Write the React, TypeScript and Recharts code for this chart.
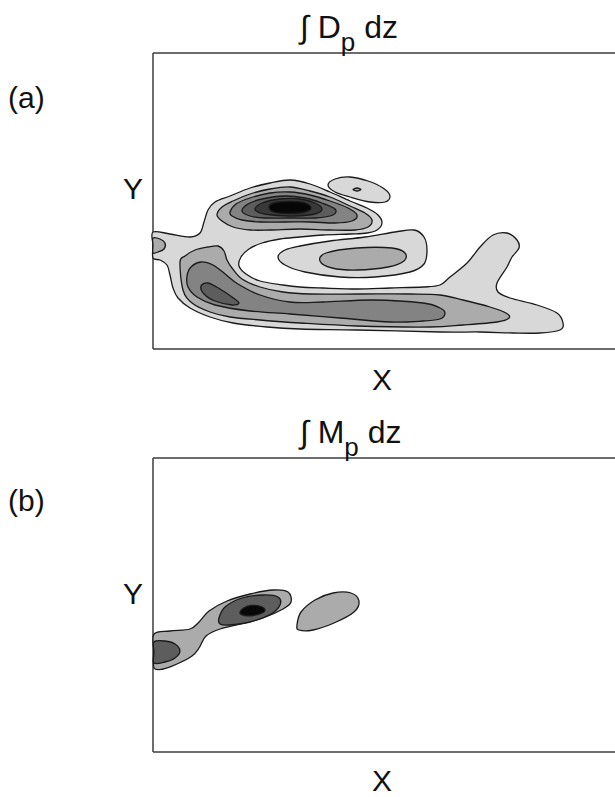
import { ScatterChart, Scatter, XAxis, YAxis, ReferenceLine } from "recharts";

type Pt = [number, number];

// panel (a) — ∫ Dp dz, box units: x 0..462, y 0..296
const dOuter: Pt[] = [
  [0, 117], [17, 115], [37, 112], [47, 116], [51, 127], [55, 139],
  [62, 147], [77, 153], [97, 161], [117, 166], [137, 169], [157, 165], [177, 157],
  [197, 148], [214, 141], [225, 134], [229, 126], [224, 119], [214, 116], [197, 115],
  [170, 114], [147, 112], [127, 110], [109, 106], [96, 100], [88, 92], [86, 83],
  [93, 75], [107, 68], [130, 64], [147, 62], [170, 61], [204, 60], [237, 61], [270, 62],
  [287, 64], [297, 72], [314, 86], [327, 102], [340, 114], [354, 116], [364, 109],
  [366, 101], [359, 92], [354, 82], [344, 66], [345, 57], [357, 51], [384, 44],
  [404, 36], [410, 26], [407, 19], [387, 16], [360, 16], [327, 17], [287, 17],
  [204, 19], [147, 20], [114, 22], [80, 26], [57, 32], [37, 41], [25, 51], [20, 61],
  [17, 74], [14, 84], [7, 89], [0, 91], [0, 104],
];
const dTop2: Pt[] = [
  [64, 134], [69, 142], [80, 148], [97, 155], [117, 160], [137, 162], [157, 158],
  [177, 152], [197, 143], [212, 136], [219, 129], [215, 122], [202, 119], [177, 119],
  [147, 120], [117, 119], [97, 119], [80, 122], [69, 128],
];
const dTop3: Pt[] = [
  [77, 137], [83, 145], [97, 151], [117, 156], [137, 157], [157, 154], [177, 148],
  [195, 141], [204, 134], [199, 128], [182, 126], [157, 127], [132, 127], [107, 127],
  [89, 129], [79, 133],
];
const dTop4: Pt[] = [
  [89, 138], [95, 145], [109, 150], [132, 153], [152, 151], [169, 146], [182, 140],
  [180, 134], [162, 131], [137, 131], [112, 131], [97, 133],
];
const dTop5: Pt[] = [
  [102, 140], [109, 146], [127, 150], [147, 150], [162, 146], [169, 140], [162, 135],
  [142, 133], [119, 134], [107, 136],
];
const dTop6: Pt[] = [
  [116, 142], [121, 146], [137, 147.5], [152, 146], [158, 141], [152, 137], [137, 135.5], [121, 137],
];
const dSmall: Pt[] = [
  [175, 164], [182, 170], [197, 172], [215, 168], [230, 161], [237, 153], [232, 147],
  [217, 147], [197, 152], [182, 157],
];
const dDot: Pt[] = [[200, 159.5], [204, 161], [208, 159.5], [204, 158]];
const dBlob1: Pt[] = [
  [125, 92], [132, 99], [147, 103], [177, 108], [212, 112], [242, 117], [261, 119],
  [271, 112], [274, 99], [271, 85], [257, 77], [222, 72], [187, 72], [152, 77], [132, 84],
];
const dBlob2: Pt[] = [
  [167, 88], [173, 96], [204, 101], [239, 101], [252, 96], [251, 88], [235, 82], [204, 79], [179, 81],
];
const dEdge: Pt[] = [
  [0, 111], [7, 110], [12, 106], [11, 100], [5, 97], [0, 96], [0, 103.5],
];
const dLow2: Pt[] = [
  [27, 87], [32, 93], [42, 99], [55, 102], [65, 103], [71, 98], [74, 89], [79, 81],
  [89, 70], [107, 62], [130, 57], [157, 55], [207, 55], [257, 55], [287, 54], [310, 49],
  [337, 42], [353, 36], [356, 31], [344, 27], [310, 24], [277, 22], [204, 23], [147, 26],
  [107, 29], [77, 32], [57, 37], [39, 46], [30, 59],
];
const dLow3: Pt[] = [
  [34, 73], [38, 82], [48, 87], [60, 84], [71, 76], [85, 65], [107, 54], [137, 47],
  [170, 47], [220, 49], [270, 46], [287, 41], [292, 36], [287, 30], [270, 28], [237, 27],
  [187, 31], [137, 35], [97, 38], [62, 44], [44, 52], [35, 62],
];
const dLow4: Pt[] = [
  [48, 63], [55, 66], [67, 60], [79, 52], [86, 46], [79, 44], [62, 48], [51, 55],
];

// panel (b) — ∫ Mp dz, box units: x 0..462, y 0..294
const mOuter: Pt[] = [
  [1, 118], [17, 121], [37, 123], [46, 130], [56, 141], [74, 151], [97, 158],
  [120, 162], [135, 160], [138, 150], [130, 143], [110, 134], [87, 128], [67, 123],
  [53, 116], [46, 104], [39, 96], [24, 88], [10, 83], [1, 84], [1, 101],
];
const mInner: Pt[] = [
  [66, 134], [72, 145], [89, 154], [110, 157], [125, 155], [127, 147], [118, 138],
  [97, 130], [76, 127], [67, 128],
];
const mCore: Pt[] = [
  [87, 139], [92, 136.5], [100, 136.5], [109, 139], [112, 142], [108, 145.5], [98, 146.5], [90, 143.5],
];
const mEdge: Pt[] = [
  [1, 110], [12, 111], [22, 108], [27, 101], [22, 94], [12, 90], [1, 89], [1, 99.5],
];
const mBlob: Pt[] = [
  [144, 127], [148, 140], [162, 152], [180, 159], [198, 159], [206, 151], [201, 140],
  [181, 129], [160, 122], [146, 122],
];

const shades = ["#d8d8d8", "#ababab", "#838383", "#5d5d5d", "#393939", "#070707"];

const layersA = [
  { pts: dOuter, fill: shades[0] },
  { pts: dEdge, fill: shades[1] },
  { pts: dSmall, fill: shades[0] },
  { pts: dDot, fill: shades[1] },
  { pts: dBlob1, fill: shades[0] },
  { pts: dBlob2, fill: shades[1] },
  { pts: dTop2, fill: shades[1] },
  { pts: dTop3, fill: shades[2] },
  { pts: dTop4, fill: shades[3] },
  { pts: dTop5, fill: shades[4] },
  { pts: dTop6, fill: shades[5] },
  { pts: dLow2, fill: shades[1] },
  { pts: dLow3, fill: shades[2] },
  { pts: dLow4, fill: shades[3] },
];

const layersB = [
  { pts: mOuter, fill: shades[1] },
  { pts: mEdge, fill: shades[3] },
  { pts: mInner, fill: shades[3] },
  { pts: mCore, fill: shades[5] },
  { pts: mBlob, fill: shades[1] },
];

const toPoints = (pts: Pt[]) => pts.map(([x, y]) => ({ x, y }));
const NoDot = () => <g />;

// closed catmull-rom through the scaled points
function closedPath(points: { x: number; y: number }[]) {
  const n = points.length;
  if (n < 3) return "";
  const p = (i: number) => points[(i + n) % n];
  let d = `M${p(0).x},${p(0).y}`;
  for (let i = 0; i < n; i++) {
    const p0 = p(i - 1), p1 = p(i), p2 = p(i + 1), p3 = p(i + 2);
    const c1x = p1.x + (p2.x - p0.x) / 6, c1y = p1.y + (p2.y - p0.y) / 6;
    const c2x = p2.x - (p3.x - p1.x) / 6, c2y = p2.y - (p3.y - p1.y) / 6;
    d += `C${c1x},${c1y},${c2x},${c2y},${p2.x},${p2.y}`;
  }
  return d + "Z";
}

const frame = "#3c3c3c";

function Panel({ layers, yMax, top }: { layers: { pts: Pt[]; fill: string }[]; yMax: number; top: number }) {
  return (
    <div style={{ position: "absolute", left: 0, top }}>
      <ScatterChart
        width={615}
        height={360}
        margin={{ top: 53, right: 0, bottom: 360 - 53 - yMax, left: 153 }}
      >
        <XAxis type="number" dataKey="x" domain={[0, 462]} hide />
        <YAxis type="number" dataKey="y" domain={[0, yMax]} hide />
        {layers.map((l, i) => (
          <Scatter
            key={i}
            data={toPoints(l.pts)}
            fill="none"
            shape={NoDot}
            line={(props: any) => (
              <path d={closedPath(props.points)} fill={l.fill} stroke="#1a1a1a" strokeWidth={1.3} />
            )}
            lineType="joint"
            isAnimationActive={false}
          />
        ))}
        <ReferenceLine x={0} stroke={frame} strokeWidth={1.5} />
        <ReferenceLine y={0} stroke={frame} strokeWidth={1.5} />
        <ReferenceLine y={yMax} stroke={frame} strokeWidth={1.5} />
      </ScatterChart>
    </div>
  );
}

export default function App() {
  return (
    <div
      style={{
        position: "absolute",
        left: 0,
        top: 0,
        width: 615,
        height: 797,
        overflow: "hidden",
        background: "#fff",
      }}
    >
      <Panel layers={layersA} yMax={296} top={0} />
      <Panel layers={layersB} yMax={294} top={405} />
      <svg
        width={615}
        height={797}
        style={{ position: "absolute", left: 0, top: 0, pointerEvents: "none" }}
        fontFamily="'Liberation Sans', Arial, sans-serif"
        fill="#111"
      >
        <text x={300} y={38} fontSize={32}>
          ∫ D<tspan dy={13} fontSize={26}>p</tspan>
          <tspan dy={-13}>{" dz"}</tspan>
        </text>
        <text x={8} y={108} fontSize={30}>(a)</text>
        <text x={123} y={199} fontSize={30}>Y</text>
        <text x={372} y={390} fontSize={30}>X</text>

        <text x={300} y={443} fontSize={32}>
          ∫ M<tspan dy={13} fontSize={26}>p</tspan>
          <tspan dy={-13}>{" dz"}</tspan>
        </text>
        <text x={8} y={511} fontSize={30}>(b)</text>
        <text x={123} y={604} fontSize={30}>Y</text>
        <text x={372} y={791} fontSize={30}>X</text>
      </svg>
    </div>
  );
}
